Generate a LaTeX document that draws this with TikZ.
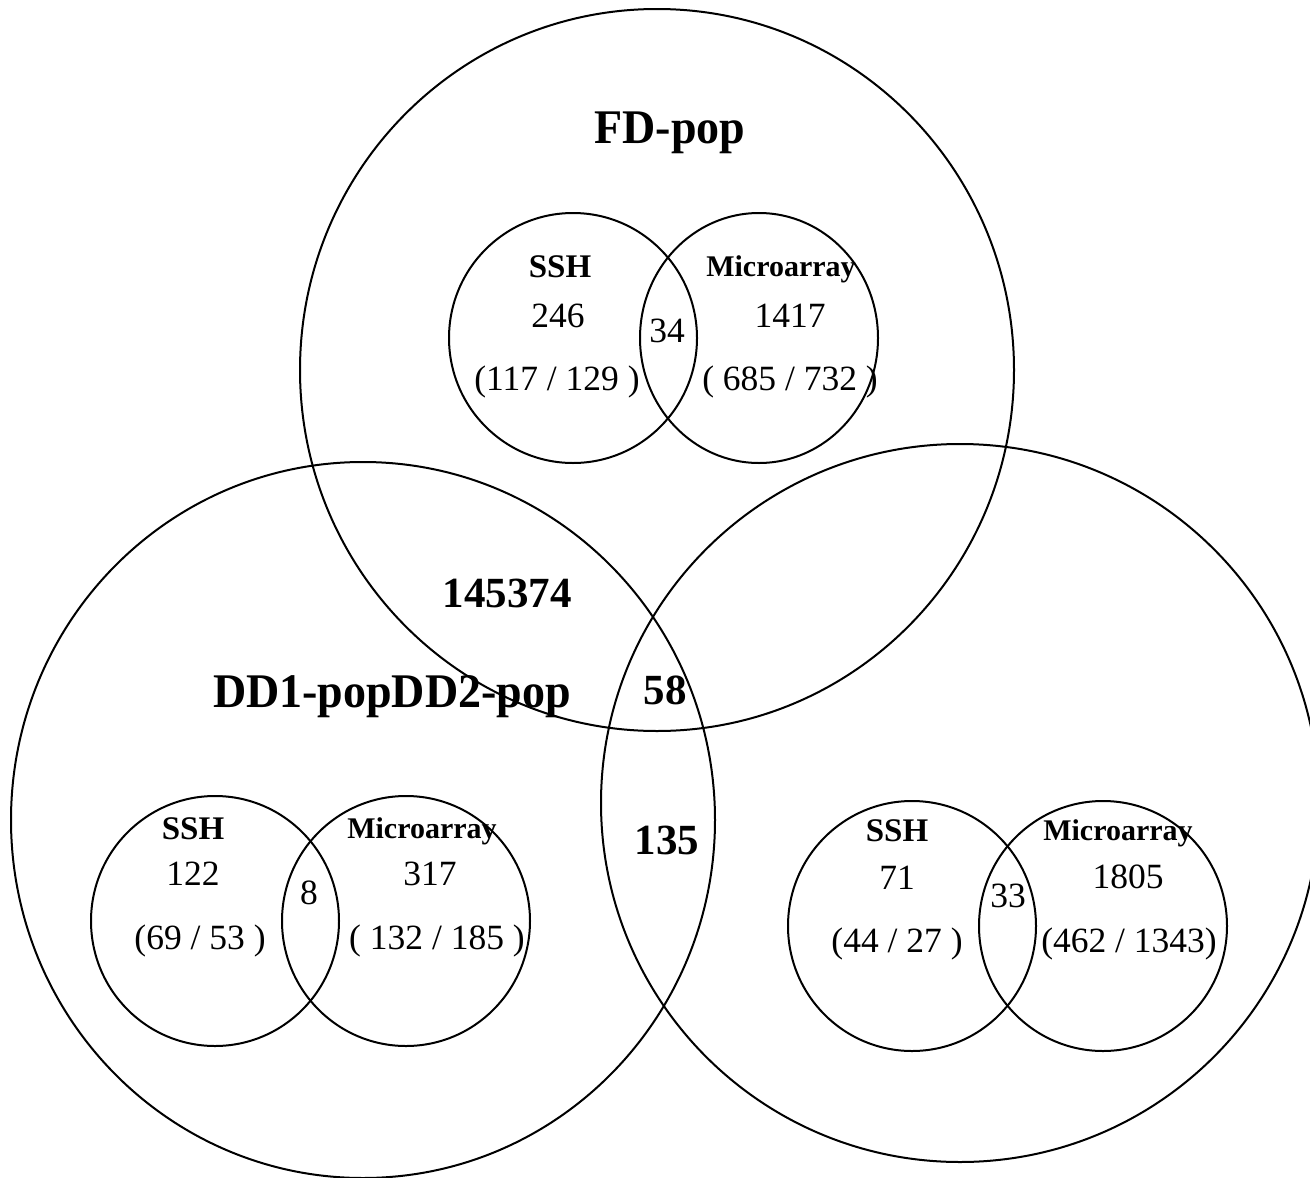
\documentclass[tikz,border=0pt]{standalone}
\usepackage{fontspec}
\setmainfont{Liberation Serif}
\usetikzlibrary{shapes.geometric}
\begin{document}
\begin{tikzpicture}[x=1pt,y=-1pt,
  bigset/.style={draw, ellipse, line width=2pt, inner sep=0pt},
  smallset/.style={draw, ellipse, line width=2pt, inner sep=0pt, minimum width=248pt, minimum height=250pt},
  poplabel/.style={font=\fontsize{46}{50}\selectfont\bfseries, inner sep=0pt, yscale=1.05},
  bignum/.style={font=\fontsize{43}{48}\selectfont\bfseries, inner sep=0pt},
  setname/.style={font=\fontsize{33}{38}\selectfont\bfseries, inner sep=0pt},
  mname/.style={font=\fontsize{30}{34}\selectfont\bfseries, inner sep=0pt},
  val/.style={font=\fontsize{35.5}{40}\selectfont, inner sep=0pt}]
\useasboundingbox (0,0) rectangle (1310,1178);
\clip (0,0) rectangle (1310,1178);
% big sets
\node[bigset, minimum width=714pt, minimum height=722pt] (fd) at (657,370) {};
\node[bigset, minimum width=704pt, minimum height=716pt] (dd1) at (363,820) {};
\node[bigset, minimum width=718pt, minimum height=718pt] (dd2) at (960,803) {};
% FD small sets
\node[smallset] (fdssh) at (573,338) {};
\node[smallset, minimum width=238pt] (fdmic) at (759,338) {};
% DD1 small sets
\node[smallset] (d1ssh) at (215,921) {};
\node[smallset] (d1mic) at (406,921) {};
% DD2 small sets
\node[smallset] (d2ssh) at (912,926) {};
\node[smallset] (d2mic) at (1103,926) {};
% labels
\node[poplabel] (lfd) at (670,133) {FD-pop};
\node[poplabel] (ldd) at (392,697) {DD1-popDD2-pop};
\node[bignum] (n145) at (507,593) {145374};
\node[bignum] (n58) at (665,690) {58};
\node[bignum] (n135) at (667,840) {135};
% FD texts
\node[setname] (t1) at (560,267) {SSH};
\node[val] (t2) at (558,316) {246};
\node[val] (t3) at (557,382) {(117 / 129 )};
\node[val] (t4) at (667,331) {34};
\node[mname] (t5) at (781,269) {Microarray};
\node[val] (t6) at (790,316) {1417};
\node[val] (t7) at (790,382) {( 685 / 732 )};
% DD1 texts
\node[setname] (u1) at (193,829) {SSH};
\node[val] (u2) at (193,874) {122};
\node[val] (u3) at (200,941) {(69 / 53 )};
\node[val] (u4) at (309,893) {8};
\node[mname] (u5) at (422,831) {Microarray};
\node[val] (u6) at (430,874) {317};
\node[val] (u7) at (437,941) {( 132 / 185 )};
% DD2 texts
\node[setname] (w1) at (897,831) {SSH};
\node[val] (w2) at (897,878) {71};
\node[val] (w3) at (897,944) {(44 / 27 )};
\node[val] (w4) at (1008,896) {33};
\node[mname] (w5) at (1118,833) {Microarray};
\node[val] (w6) at (1128,877) {1805};
\node[val] (w7) at (1129,944) {(462 / 1343)};
\end{tikzpicture}
\end{document}
